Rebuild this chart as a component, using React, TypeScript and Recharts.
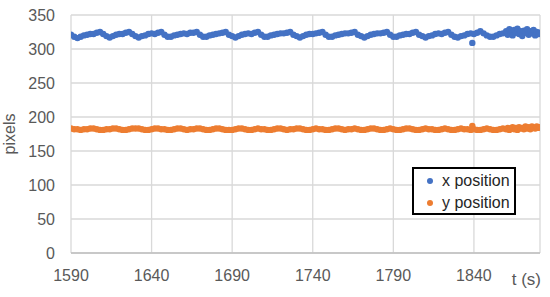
import { ScatterChart, Scatter, XAxis, YAxis, CartesianGrid, Label } from "recharts";

const T = [
  1590, 1592, 1594, 1596, 1598, 1600, 1602, 1604, 1606, 1608,
  1610, 1612, 1614, 1616, 1618, 1620, 1622, 1624, 1626, 1628,
  1630, 1632, 1634, 1636, 1638, 1640, 1642, 1644, 1646, 1648,
  1650, 1652, 1654, 1656, 1658, 1660, 1662, 1664, 1666, 1668,
  1670, 1672, 1674, 1676, 1678, 1680, 1682, 1684, 1686, 1688,
  1690, 1692, 1694, 1696, 1698, 1700, 1702, 1704, 1706, 1708,
  1710, 1712, 1714, 1716, 1718, 1720, 1722, 1724, 1726, 1728,
  1730, 1732, 1734, 1736, 1738, 1740, 1742, 1744, 1746, 1748,
  1750, 1752, 1754, 1756, 1758, 1760, 1762, 1764, 1766, 1768,
  1770, 1772, 1774, 1776, 1778, 1780, 1782, 1784, 1786, 1788,
  1790, 1792, 1794, 1796, 1798, 1800, 1802, 1804, 1806, 1808,
  1810, 1812, 1814, 1816, 1818, 1820, 1822, 1824, 1826, 1828,
  1830, 1832, 1834, 1836, 1838, 1839, 1840, 1842, 1844, 1846, 1848,
  1850, 1852, 1854, 1856, 1858,
  1860, 1861, 1862, 1863, 1864, 1865, 1866, 1867, 1868, 1869,
  1870, 1871, 1872, 1873, 1874, 1875, 1876, 1877, 1878, 1879, 1880, 1881,
];

// x position (pixels)
const X_POS = [
  321, 318, 316, 318, 320, 321, 322, 322, 324, 325,
  322, 319, 317, 319, 321, 322, 322, 324, 325, 322,
  319, 317, 319, 320, 322, 323, 322, 324, 325, 321,
  318, 318, 320, 321, 322, 323, 322, 324, 324, 325,
  321, 318, 318, 320, 321, 322, 323, 324, 325, 321,
  319, 317, 319, 321, 322, 323, 322, 324, 325, 321,
  318, 318, 320, 321, 322, 323, 323, 324, 325, 321,
  319, 317, 319, 321, 322, 322, 323, 324, 325, 321,
  318, 318, 320, 321, 322, 323, 323, 324, 325, 321,
  319, 317, 319, 321, 322, 323, 323, 324, 325, 321,
  318, 318, 320, 321, 322, 322, 324, 325, 321, 319,
  317, 319, 320, 322, 323, 322, 324, 325, 321, 318,
  317, 319, 320, 322, 323, 309, 322, 324, 326, 323, 320,
  318, 318, 320, 322, 323,
  326, 321, 329, 323, 320, 328, 324, 330, 322, 326,
  319, 327, 324, 329, 321, 326, 323, 328, 320, 325, 322, 324,
];

// y position (pixels)
const Y_POS = [
  183, 182, 182, 181, 182, 182, 183, 183, 182, 181,
  181, 182, 182, 183, 183, 182, 181, 181, 182, 183,
  183, 183, 182, 181, 181, 182, 183, 183, 182, 182,
  181, 181, 182, 183, 183, 182, 181, 182, 182, 183,
  183, 182, 181, 181, 182, 183, 183, 182, 181, 181,
  181, 182, 183, 183, 182, 181, 181, 182, 183, 182,
  182, 181, 181, 182, 183, 183, 182, 181, 182, 182,
  183, 183, 182, 181, 181, 182, 183, 182, 182, 181,
  181, 182, 183, 183, 182, 181, 182, 182, 183, 182,
  181, 181, 182, 183, 183, 182, 181, 181, 182, 183,
  182, 181, 181, 182, 183, 183, 182, 181, 181, 182,
  183, 182, 182, 181, 181, 182, 183, 182, 181, 181,
  182, 183, 182, 182, 181, 187, 182, 181, 181, 182, 183,
  182, 181, 181, 182, 183,
  182, 184, 181, 183, 185, 182, 184, 181, 185, 183,
  184, 182, 186, 183, 185, 182, 186, 184, 183, 186, 184, 185,
];

const X_TICKS = [1590, 1640, 1690, 1740, 1790, 1840];
const Y_TICKS = [0, 50, 100, 150, 200, 250, 300, 350];

const AZUL = "#4472C4";
const NARANJA = "#ED7D31";
const TEXTO = "#595959";
const FUENTE = "'Liberation Sans', Arial, sans-serif";

const xData = T.map((t, i) => ({ t, v: X_POS[i] }));
const yData = T.map((t, i) => ({ t, v: Y_POS[i] }));

const punto = (color: string) => (props: any) =>
  <circle cx={props.cx} cy={props.cy} r={3.2} fill={color} />;

/* leyenda con caja negra, como en el original */
function LeyendaCaja() {
  const fila = (color: string, texto: string) => (
    <div style={{ display: "flex", alignItems: "center", height: 22 }}>
      <span style={{ width: 6, height: 6, borderRadius: 3, background: color, marginLeft: 13, marginRight: 9 }} />
      <span>{texto}</span>
    </div>
  );
  return (
    <div
      style={{
        position: "absolute",
        left: 412,
        top: 167,
        width: 100,
        height: 43,
        border: "2px solid #000",
        background: "#fff",
        fontFamily: FUENTE,
        fontSize: 16,
        color: "#262626",
        paddingTop: 1,
        boxSizing: "content-box",
      }}
    >
      {fila(AZUL, "x position")}
      {fila(NARANJA, "y position")}
    </div>
  );
}

export default function App() {
  return (
    <div style={{ position: "absolute", left: 0, top: 0, width: 550, height: 297, background: "#fff" }}>
      <ScatterChart width={550} height={297} margin={{ top: 15, right: 10, bottom: 14, left: 31 }}>
        <CartesianGrid stroke="#d9d9d9" strokeWidth={1.3} />
        <XAxis
          type="number"
          dataKey="t"
          domain={[1590, 1881]}
          ticks={X_TICKS}
          allowDataOverflow
          height={30}
          tickLine={false}
          tickMargin={11}
          axisLine={{ stroke: "#bfbfbf", strokeWidth: 1.3 }}
          tick={{ fill: TEXTO, fontSize: 16, fontFamily: FUENTE }}
        >
          <Label
            content={() => (
              <text x={541} y={285} textAnchor="end" fill={TEXTO} fontSize={17} fontFamily={FUENTE}>
                t (s)
              </text>
            )}
          />
        </XAxis>
        <YAxis
          type="number"
          dataKey="v"
          domain={[0, 350]}
          ticks={Y_TICKS}
          width={40}
          tickLine={false}
          tickMargin={10}
          axisLine={false}
          tick={{ fill: TEXTO, fontSize: 16, fontFamily: FUENTE }}
        >
          <Label
            content={() => (
              <text
                x={15}
                y={134}
                transform="rotate(-90 15 134)"
                textAnchor="middle"
                fill={TEXTO}
                fontSize={16}
                fontFamily={FUENTE}
              >
                pixels
              </text>
            )}
          />
        </YAxis>
        <Scatter name="x position" data={xData} fill={AZUL} shape={punto(AZUL)} isAnimationActive={false} />
        <Scatter name="y position" data={yData} fill={NARANJA} shape={punto(NARANJA)} isAnimationActive={false} />
      </ScatterChart>
      <LeyendaCaja />
    </div>
  );
}
